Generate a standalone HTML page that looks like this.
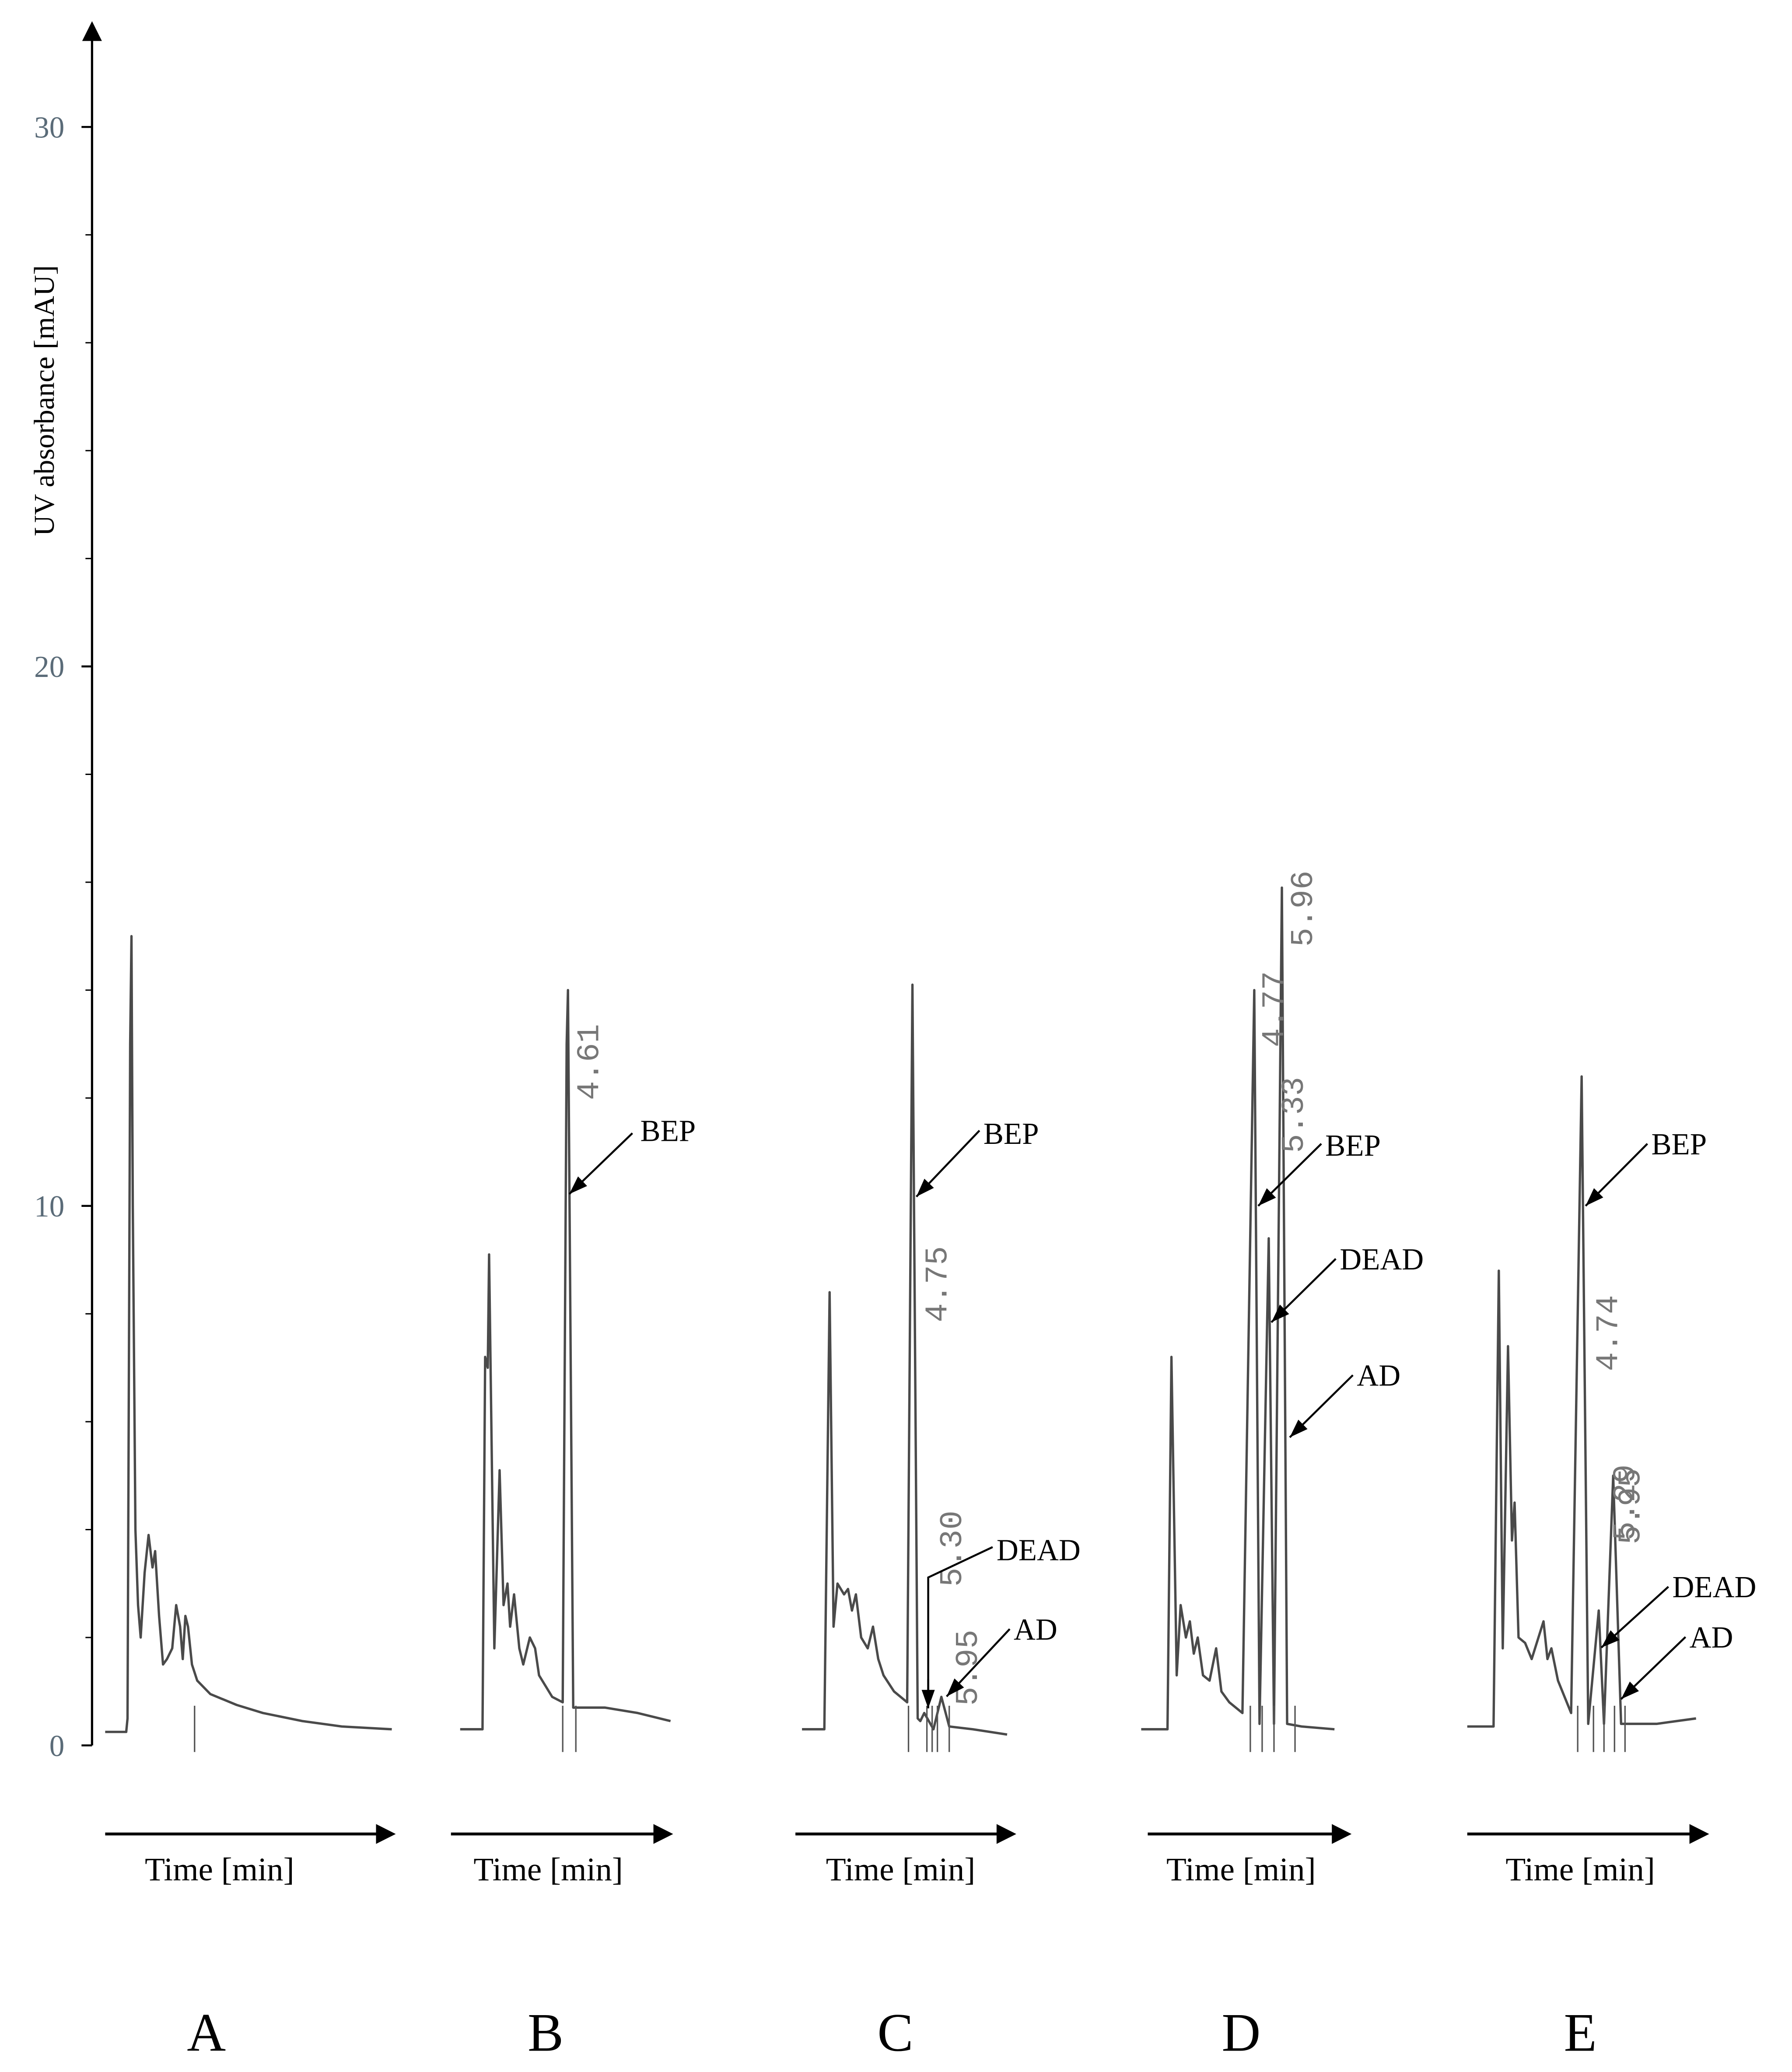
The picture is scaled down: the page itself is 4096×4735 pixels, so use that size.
<!DOCTYPE html>
<html><head><meta charset="utf-8"><style>
html,body{margin:0;padding:0;background:#fff;}
svg{display:block;}
</style></head><body>
<svg id="chart" width="4096" height="4735" viewBox="0 0 1363 1567" preserveAspectRatio="none" xmlns="http://www.w3.org/2000/svg">
<rect x="0" y="0" width="1363" height="1567" fill="#fff"/>
<g id="axis"></g>
<g id="traces"></g>
<g id="annos"></g>
</svg>
<script>
const yTicks = [0, 10, 20, 30];
const yMinor = [2,4,6,8,12,14,16,18,22,24,26,28];
const panelNames = ["A","B","C","D","E"];
const tA = [0,1.6,1.7,1.9,2.0,2.1,2.3,2.5,2.7,3.0,3.3,3.6,3.8,4.1,4.4,4.7,5.1,5.4,5.7,5.9,6.1,6.3,6.6,7.0,8,10,12,15,18,21.8];
const vA = [0.25,0.25,0.5,13,15,10,4,2.6,2.0,3.2,3.9,3.3,3.6,2.4,1.5,1.6,1.8,2.6,2.2,1.6,2.4,2.2,1.5,1.2,0.95,0.75,0.6,0.45,0.35,0.3];
const tB = [0,1.7,1.9,2.1,2.2,2.6,3.0,3.3,3.6,3.8,4.1,4.5,4.8,5.3,5.7,6.0,7.0,7.8,8.1,8.2,8.6,11,13.5,16];
const vB = [0.3,0.3,7.2,7.0,9.1,1.8,5.1,2.6,3.0,2.2,2.8,1.8,1.5,2.0,1.8,1.3,0.9,0.8,13,14,0.7,0.7,0.6,0.45];
const tC = [0,1.7,2.1,2.4,2.7,3.2,3.5,3.8,4.1,4.5,5.0,5.4,5.8,6.2,7.0,8.0,8.4,8.8,9.0,9.3,10.0,10.6,11.2,13.0,15.6];
const vC = [0.3,0.3,8.4,2.2,3.0,2.8,2.9,2.5,2.8,2.0,1.8,2.2,1.6,1.3,1.0,0.8,14.1,0.5,0.45,0.6,0.3,0.9,0.35,0.3,0.2];
const tD = [0,2.0,2.3,2.7,3.0,3.4,3.7,4.0,4.3,4.7,5.2,5.7,6.1,6.7,7.7,8.6,9.0,9.7,10.1,10.7,11.1,12.2,14.7];
const vD = [0.3,0.3,7.2,1.3,2.6,2.0,2.3,1.7,2.0,1.3,1.2,1.8,1.0,0.8,0.6,14,0.4,9.4,0.4,15.9,0.4,0.35,0.3];
const tE = [0,2.0,2.4,2.7,3.1,3.4,3.6,3.9,4.4,4.9,5.8,6.1,6.4,6.9,7.9,8.7,9.2,10.0,10.4,11.1,11.7,14.4,17.4];
const vE = [0.35,0.35,8.8,1.8,7.4,3.8,4.5,2.0,1.9,1.6,2.3,1.6,1.8,1.2,0.6,12.4,0.4,2.5,0.4,5.0,0.4,0.4,0.5];
const mA = [6.8];
const mB = [7.8,8.8];
const mC = [8.1,9.5,9.9,10.3,11.2];
const mD = [8.3,9.2,10.1,11.7];
const mE = [8.4,9.6,10.4,11.2,12.0];

const NS="http://www.w3.org/2000/svg";
function el(tag, attrs, parent, text){const e=document.createElementNS(NS,tag);for(const k in attrs)e.setAttribute(k,attrs[k]);if(text!==undefined)e.textContent=text;parent.appendChild(e);return e;}
const y = v => 1320 - 40.8*v;
const panelX0 = [80,350,610,868,1116];
const xs = (p,t) => panelX0[p] + t*10;

const ax=document.getElementById('axis');
const axl=el('line',{x1:70,y1:1320,x2:70,y2:28,stroke:'#000','stroke-width':1.7},ax);


const ah=el('polygon',{points:'70,16 62.5,31 77.5,31',fill:'#000'},ax);


yTicks.forEach(v=>{
  const tk=el('line',{x1:62,y1:y(v),x2:70,y2:y(v),stroke:'#000','stroke-width':1.5},ax);
  
  
  const lb=el('text',{x:49,y:y(v)+8,'text-anchor':'end','font-family':'Liberation Serif, serif','font-size':23,fill:'#5a6b78'},ax,String(v));
  
  
});
yMinor.forEach(v=>{
  const tk=el('line',{x1:65,y1:y(v),x2:70,y2:y(v),stroke:'#000','stroke-width':1},ax);
  
  
});
const yt=el('text',{x:0,y:0,transform:'translate(41,303) rotate(-90)','text-anchor':'middle','font-family':'Liberation Serif, serif','font-size':22,fill:'#000'},ax,'UV absorbance [mAU]');



const tr=document.getElementById('traces');
const T=[tA,tB,tC,tD,tE], V=[vA,vB,vC,vD,vE], M=[mA,mB,mC,mD,mE];
for(let p=0;p<5;p++){
  const pts=T[p].map((t,i)=>xs(p,t).toFixed(1)+','+y(V[p][i]).toFixed(1)).join(' ');
  const pl=el('polyline',{points:pts,fill:'none',stroke:'#4a4a4a','stroke-width':1.8,'stroke-linejoin':'round'},tr);
  
  
  M[p].forEach(t=>{
    const ml=el('line',{x1:xs(p,t),y1:1290,x2:xs(p,t),y2:1325,stroke:'#555','stroke-width':1.1},tr);
    
    
  });
}

const an=document.getElementById('annos');
const timeArrows=[[80,301],[343,512],[605,773],[873,1028],[1116,1300]];
const timeLabelX=[167,417,685,944,1202];
const letterX=[157,415,681,944,1202];
timeArrows.forEach((a,i)=>{
  const l=el('line',{x1:a[0],y1:1387,x2:a[1]-12,y2:1387,stroke:'#000','stroke-width':2.2},an);
  
  
  const h=el('polygon',{points:`${a[1]},1387 ${a[1]-15},1379.5 ${a[1]-15},1394.5`,fill:'#000'},an);
  
  
  const tl=el('text',{x:timeLabelX[i],y:1422,'text-anchor':'middle','font-family':'Liberation Serif, serif','font-size':25,fill:'#000'},an,'Time [min]');
  
  
  const lt=el('text',{x:letterX[i],y:1551,'text-anchor':'middle','font-family':'Liberation Serif, serif','font-size':41,fill:'#000'},an,panelNames[i]);
  
  
});

function rt(txt,x,yb){
  const t=el('text',{transform:`translate(${x},${yb}) rotate(-90)`,'font-family':'Liberation Mono, monospace','font-size':24,fill:'#777'},an,txt);
  
  
}
rt('4.61',455,832); rt('4.75',720,1000); rt('5.30',731,1200); rt('5.95',743,1290);
rt('5.96',998,716); rt('4.77',976,792); rt('5.33',991,872);
rt('4.74',1230,1037); rt('5.29',1243,1165); rt('5.95',1247,1168);

function arrow(x1,y1,x2,y2){
  const l=el('line',{x1,y1,x2,y2,stroke:'#000','stroke-width':1.5},an);
  
  
  const ang=Math.atan2(y2-y1,x2-x1), L=14, W=5;
  const bx=x2-L*Math.cos(ang), by=y2-L*Math.sin(ang);
  const px=-Math.sin(ang)*W, py=Math.cos(ang)*W;
  const h=el('polygon',{points:`${x2},${y2} ${bx+px},${by+py} ${bx-px},${by-py}`,fill:'#000'},an);
  
  
}
function lab(txt,x,yb){
  const t=el('text',{x,y:yb,'font-family':'Liberation Serif, serif','font-size':23,fill:'#000'},an,txt);
  
  
}
lab('BEP',487,863); arrow(481,857,433,903);
lab('BEP',748,865); arrow(745,855,697,905);
lab('DEAD',758,1180);
const dl=el('polyline',{points:'755,1170 706,1193 706,1280',fill:'none',stroke:'#000','stroke-width':1.5},an);


arrow(706,1270,706,1292);
lab('AD',771,1240); arrow(768,1232,720,1283);
lab('BEP',1008,874); arrow(1005,865,957,912);
lab('DEAD',1019,960); arrow(1016,952,967,1000);
lab('AD',1032,1048); arrow(1029,1040,981,1087);
lab('BEP',1256,873); arrow(1253,865,1206,912);
lab('DEAD',1272,1208); arrow(1269,1200,1218,1246);
lab('AD',1285,1246); arrow(1282,1238,1233,1285);
</script>
</body></html>
